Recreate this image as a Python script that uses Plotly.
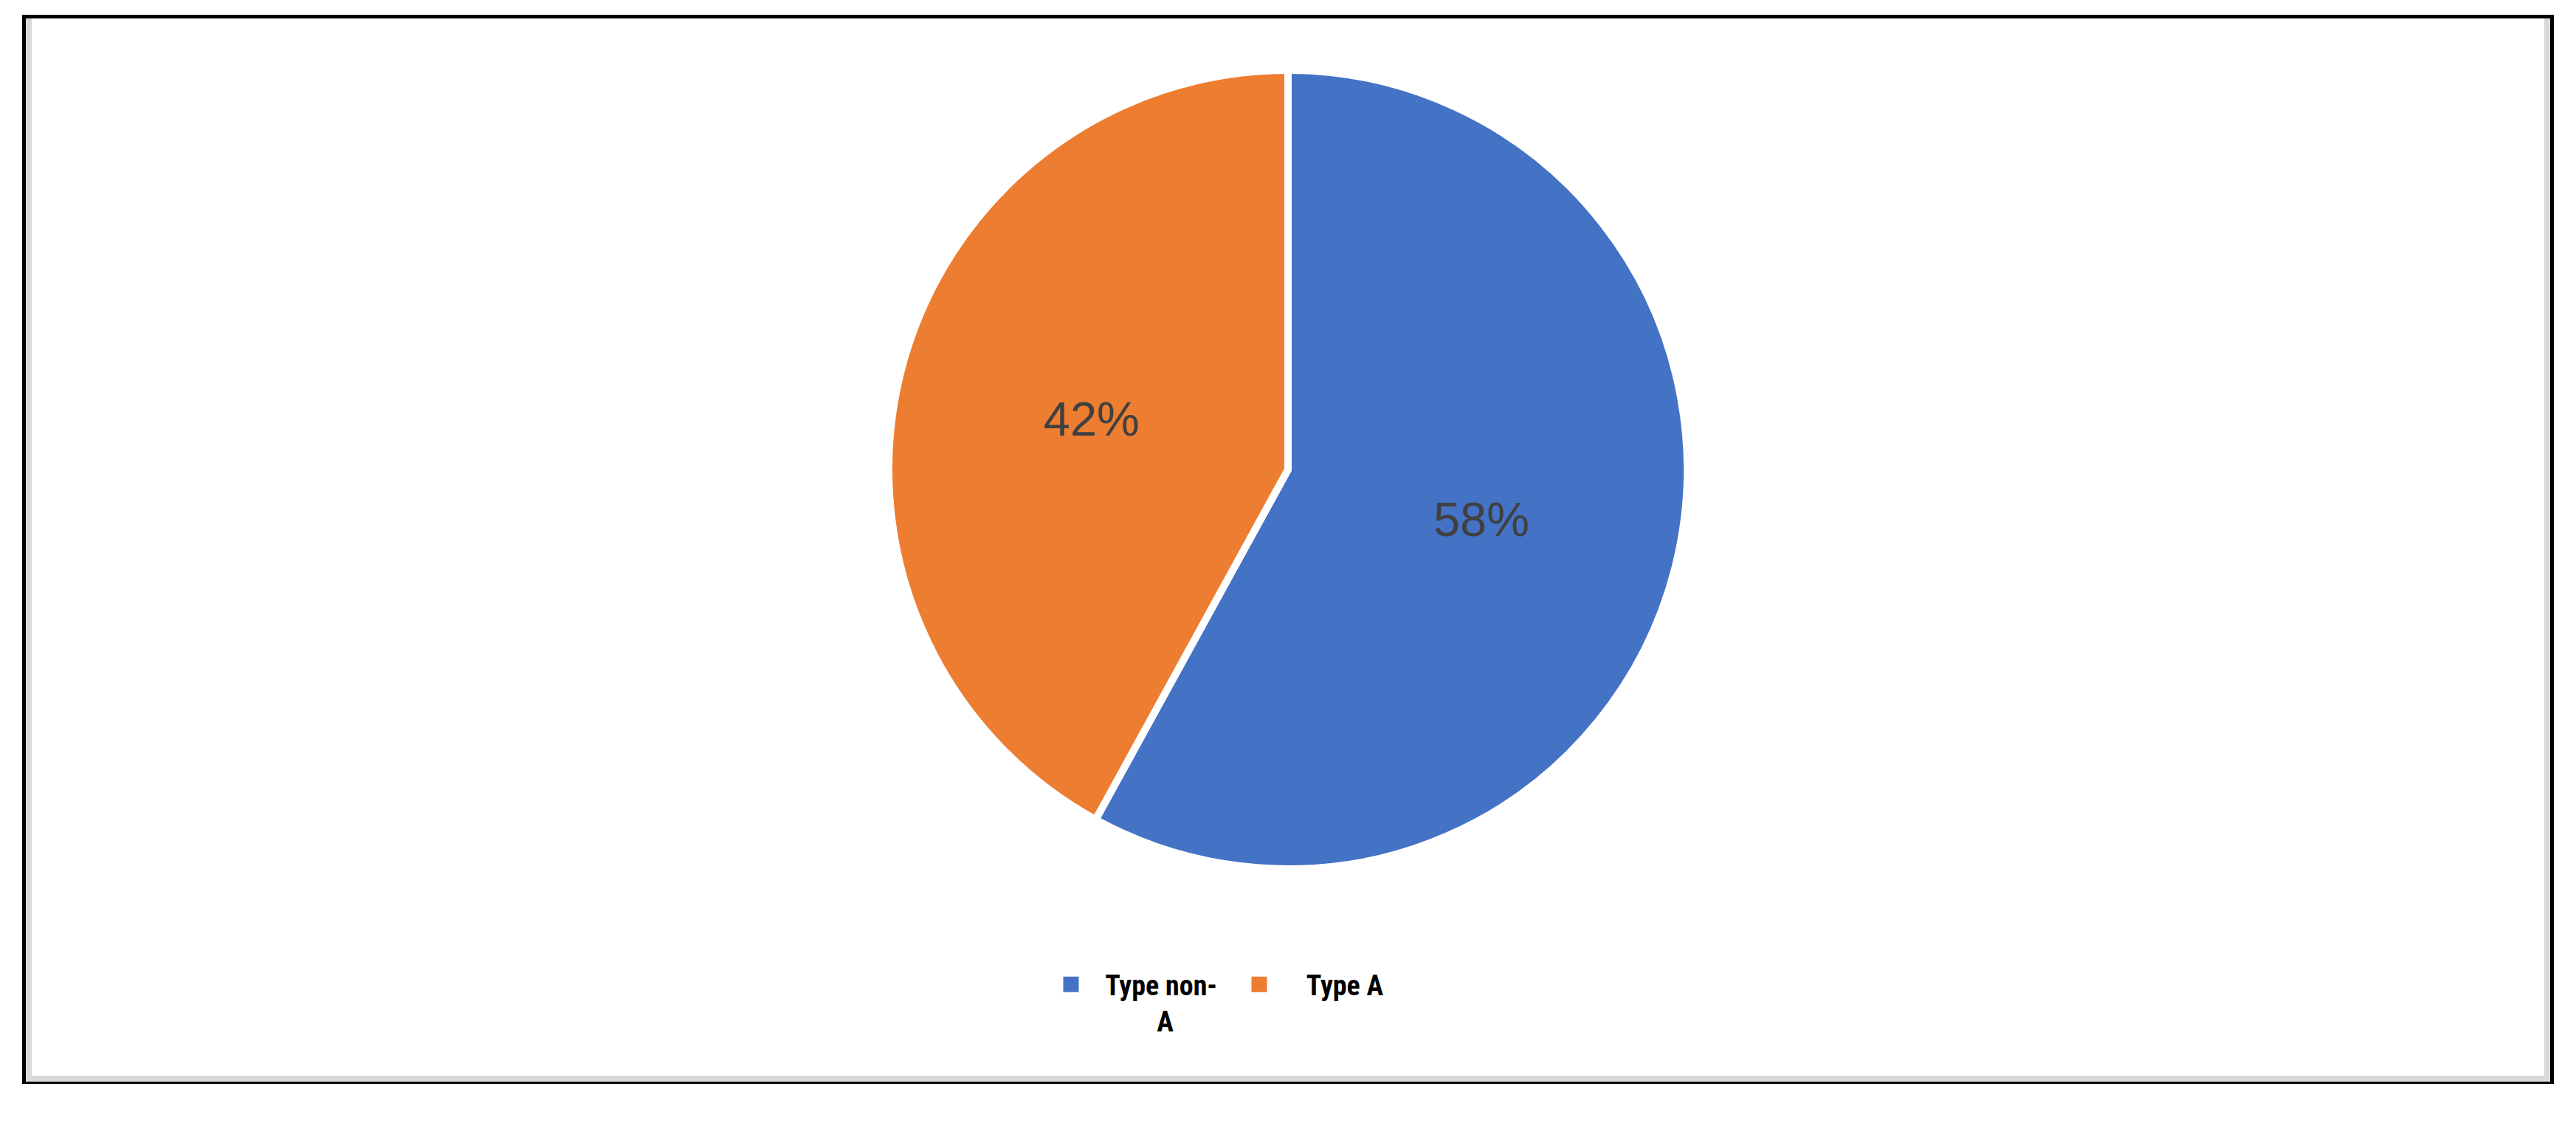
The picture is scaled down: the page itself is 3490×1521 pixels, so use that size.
import plotly.graph_objects as go

# data
labels = ["Type non-A", "Type A"]
values = [58, 42]
colors = ["#4472C4", "#ED7D31"]
# legend text as drawn in the chart (wrapped, second line centred)
NB = "\u00a0"
legend_text = [NB * 3 + "Type non-<br>" + NB * 11 + "A",
               NB * 5 + "Type A"]

W, H = 3490, 1521
OFF = 8  # page body margin, shift everything up/left by it


def px(x):
    return (x - OFF) / W


def py(y):
    return 1 - (y - OFF) / H


fig = go.Figure()
fig.add_trace(go.Pie(
    labels=labels,
    values=values,
    sort=False,
    direction="clockwise",
    rotation=0,
    marker=dict(colors=colors, line=dict(color="white", width=10)),
    texttemplate="%{percent:.0%}",
    textposition="inside",
    insidetextorientation="horizontal",
    textfont=dict(family="Liberation Sans, Arial", size=65, color="#404040"),
    showlegend=False,
    domain=dict(x=[px(1745 - 700), px(1745 + 700)], y=[py(1177), py(95)]),
))

# legend entries
for name, col in zip(legend_text, colors):
    fig.add_trace(go.Scatter(
        x=[None], y=[None], mode="markers", name=name,
        marker=dict(symbol="square", size=16, color=col, line=dict(color=col, width=5)),
    ))

# frame: black outline with grey inner edge on left/right/bottom
fig.add_shape(type="rect", xref="paper", yref="paper",
              x0=px(32.5), x1=px(3457.5), y0=py(1465.5), y1=py(22.5),
              line=dict(color="black", width=5), layer="above")
fig.add_shape(type="path", xref="paper", yref="paper",
              path=f"M {px(39)} {py(25)} L {px(39)} {py(1461)} "
                   f"L {px(3451)} {py(1461)} L {px(3451)} {py(25)}",
              line=dict(color="#D9D9D9", width=8), layer="above")

fig.update_layout(
    width=W, height=H,
    margin=dict(l=0, r=0, t=0, b=0),
    paper_bgcolor="white",
    plot_bgcolor="white",
    xaxis=dict(visible=False),
    yaxis=dict(visible=False),
    showlegend=True,
    legend=dict(
        orientation="h",
        x=px(1431), xanchor="left",
        y=py(1302), yanchor="top",
        valign="top",
        entrywidth=210, entrywidthmode="pixels",
        font=dict(family="Liberation Sans Narrow, Roboto Condensed, Arial Narrow, Liberation Sans",
                  size=38, color="black", weight="bold"),
        bgcolor="rgba(0,0,0,0)",
    ),
)

fig.write_html("out.html")
